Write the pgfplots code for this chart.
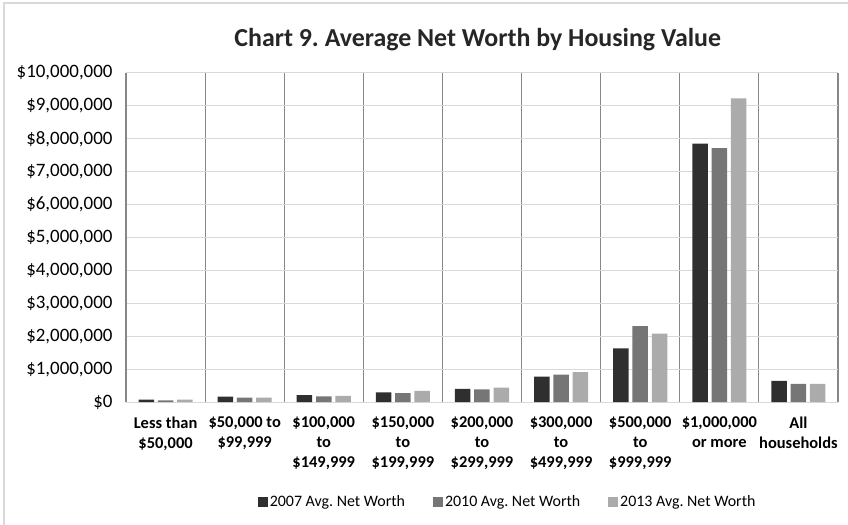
\documentclass[border=0pt]{standalone}
\usepackage{pgfplots}
\pgfplotsset{compat=1.18}
\usepackage{fontspec}
\setmainfont{Carlito}
\definecolor{cA}{RGB}{47,47,47}
\definecolor{cB}{RGB}{118,118,118}
\definecolor{cC}{RGB}{171,171,171}
\definecolor{gridc}{RGB}{217,217,217}
\definecolor{sepc}{RGB}{135,135,135}
\pgfplotsset{sq/.style={legend image code/.code={\fill[##1] (0bp,-5bp) rectangle (10bp,5bp);}}}
\begin{document}
\begin{tikzpicture}
\path[use as bounding box] (-126bp,-123bp) rectangle (722bp,402bp);
\draw[gridc, line width=2bp] (-122bp,-130bp) -- (-122bp,399bp) -- (730bp,399bp);
\begin{axis}[
 at={(0,0)}, anchor=south west,
 scale only axis, width=712bp, height=329bp,
 ybar=3.8bp, bar width=15.5bp,
 xmin=-0.5, xmax=8.5, ymin=0, ymax=10000000,
 scaled y ticks=false,
 xtick={0,1,2,3,4,5,6,7,8},
 xticklabels={{Less than\\\$50,000},{\$50,000 to\\\$99,999},{\$100,000\\to\\\$149,999},{\$150,000\\to\\\$199,999},{\$200,000\\to\\\$299,999},{\$300,000\\to\\\$499,999},{\$500,000\\to\\\$999,999},{\$1,000,000\\or more},{All\\households}},
 ytick={0,1000000,2000000,3000000,4000000,5000000,6000000,7000000,8000000,9000000,10000000},
 yticklabels={{\$0},{\$1,000,000},{\$2,000,000},{\$3,000,000},{\$4,000,000},{\$5,000,000},{\$6,000,000},{\$7,000,000},{\$8,000,000},{\$9,000,000},{\$10,000,000}},
 minor xtick={-0.5,0.5,1.5,2.5,3.5,4.5,5.5,6.5,7.5,8.5},
 xminorgrids=true, ymajorgrids=true,
 major grid style={gridc, line width=1bp},
 minor grid style={sepc, line width=1.2bp},
 major tick length=0pt, minor tick length=0pt,
 axis x line*=bottom, axis y line*=left,
 x axis line style={gridc, line width=1bp, -},
 y axis line style={sepc, line width=1.2bp, -},
 xticklabel style={align=center, font=\bfseries\fontsize{16.5}{20}\selectfont, anchor=north, yshift=-11.5bp},
 yticklabel style={font=\fontsize{19}{22}\selectfont, anchor=east, xshift=-10bp},
 title={Chart 9.\ Average Net Worth by Housing Value},
 title style={at={(0.494,1.061)}, anchor=base, font=\bfseries\fontsize{26}{30}\selectfont, text=black!85},
 legend style={at={(0.536,-0.304)}, anchor=center, draw=none, legend columns=3, font=\fontsize{16}{20}\selectfont,
   /tikz/every even column/.append style={column sep=26bp}},
 legend cell align=left,
 clip=false,
]
\addplot[fill=cA, draw=none, sq] coordinates {(0,70000) (1,160000) (2,210000) (3,290000) (4,400000) (5,770000) (6,1630000) (7,7850000) (8,640000)};
\addplot[fill=cB, draw=none, sq] coordinates {(0,50000) (1,130000) (2,170000) (3,270000) (4,380000) (5,830000) (6,2310000) (7,7720000) (8,550000)};
\addplot[fill=cC, draw=none, sq] coordinates {(0,70000) (1,130000) (2,190000) (3,340000) (4,440000) (5,910000) (6,2080000) (7,9230000) (8,550000)};
\legend{2007 Avg.\ Net Worth, 2010 Avg.\ Net Worth, 2013 Avg.\ Net Worth}
\end{axis}
\end{tikzpicture}
\end{document}
